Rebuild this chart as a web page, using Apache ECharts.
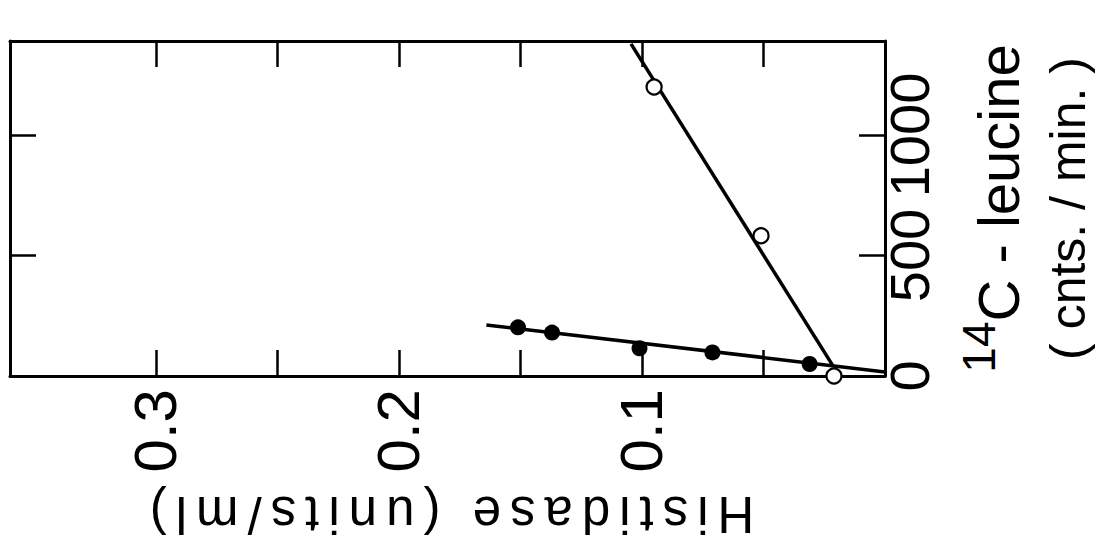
<!DOCTYPE html>
<html>
<head>
<meta charset="utf-8">
<script src="https://cdn.jsdelivr.net/npm/echarts@6/dist/echarts.min.js"></script>
<style>
  html, body { margin: 0; padding: 0; background: #fff; }
  #chart { width: 1108px; height: 548px; }
</style>
</head>
<body>
<div id="chart"></div>
<script>
// Histidase activity against 14C-leucine incorporation (figure drawn turned on its side)

// tick labels and tick marks
const histidaseTicks = [0.1, 0.2, 0.3];
const histidaseMarks = [0.05, 0.1, 0.15, 0.2, 0.25, 0.3];
const leucineTicks = [0, 500, 1000];
const leucineMarks = [500, 1000];

// filled circles
const solidHistidase = [0.151, 0.137, 0.101, 0.071, 0.031];
const solidLeucine = [202, 180, 115, 98, 50];

// open circles
const openHistidase = [0.095, 0.051, 0.021];
const openLeucine = [1199, 582, 0];

// fitted lines (end points)
const solidFitHistidase = [0.164, 0.0];
const solidFitLeucine = [212, 17];
const openFitHistidase = [0.1045, 0.0214];
const openFitLeucine = [1378, 42];

const histidaseTitle = 'Histidase (units/ml)';
const leucineTitle = '{sup|14}{a|C - leucine}\n{b|( cnts. / min. )}';

const pairs = (xs, ys) => xs.map((x, i) => [x, ys[i]]);

const ink = '#000';
const font = 'Liberation Sans';
const axisLine = { show: true, onZero: false, lineStyle: { color: ink, width: 3 } };
const tick = marks => ({
  show: true, inside: true, length: 26, customValues: marks,
  lineStyle: { color: ink, width: 2.5 }
});

const chart = echarts.init(document.getElementById('chart'), null, { renderer: 'svg' });

chart.setOption({
  animation: false,
  backgroundColor: '#fff',
  grid: { left: 10, top: 41, width: 875, height: 335, outerBoundsMode: 'none', containLabel: false },
  xAxis: [
    {
      type: 'value', position: 'bottom', inverse: true,
      min: 0, max: 0.36,
      axisLine, axisTick: tick(histidaseMarks), splitLine: { show: false },
      axisLabel: {
        customValues: histidaseTicks,
        rotate: 90, margin: 13, fontSize: 60, color: ink, fontFamily: font,
        formatter: v => v.toFixed(1)
      },
      name: histidaseTitle, nameLocation: 'middle', nameRotate: 180, nameGap: 113,
      nameMoveOverlap: false,
      nameTextStyle: { fontSize: 51, fontFamily: font, color: ink }
    },
    {
      type: 'value', position: 'top', inverse: true,
      min: 0, max: 0.36,
      axisLine, axisTick: tick(histidaseMarks), splitLine: { show: false },
      axisLabel: { show: false }
    }
  ],
  yAxis: [
    {
      type: 'value', position: 'right',
      min: 0, max: 1390,
      axisLine, axisTick: tick(leucineMarks), splitLine: { show: false },
      axisLabel: {
        customValues: leucineTicks,
        rotate: 90, margin: -4, fontSize: 56, color: ink, fontFamily: font,
        formatter: v => String(v)
      },
      name: leucineTitle, nameLocation: 'middle', nameRotate: 90, nameGap: 71,
      nameMoveOverlap: false,
      nameTextStyle: {
        color: ink, fontFamily: font,
        rich: {
          // superscript mass number sits above the cap line of "C"
          sup: { fontSize: 46, fontFamily: font, color: ink, verticalAlign: 'top' },
          a: { fontSize: 58, fontFamily: font, color: ink, lineHeight: 84, verticalAlign: 'middle' },
          b: { fontSize: 50, fontFamily: font, color: ink, lineHeight: 56 }
        }
      }
    },
    {
      type: 'value', position: 'left',
      min: 0, max: 1390,
      axisLine, axisTick: tick(leucineMarks), splitLine: { show: false },
      axisLabel: { show: false }
    }
  ],
  series: [
    {
      type: 'line', data: pairs(solidFitHistidase, solidFitLeucine),
      showSymbol: false, symbol: 'none', clip: false, z: 3,
      lineStyle: { color: ink, width: 3.5 }
    },
    {
      type: 'line', data: pairs(openFitHistidase, openFitLeucine),
      showSymbol: false, symbol: 'none', clip: false, z: 3,
      lineStyle: { color: ink, width: 3.5 }
    },
    {
      type: 'scatter', data: pairs(solidHistidase, solidLeucine),
      symbol: 'circle', symbolSize: 16, clip: false, z: 5,
      itemStyle: { color: ink, opacity: 1 }
    },
    {
      type: 'scatter', data: pairs(openHistidase, openLeucine),
      symbol: 'circle', symbolSize: 15, clip: false, z: 6,
      itemStyle: { color: '#fff', borderColor: ink, borderWidth: 2.2, opacity: 1 }
    }
  ]
});

// the histidase caption is set in widely spaced lettering
function spaceCaption() {
  document.querySelectorAll('#chart svg text').forEach(t => {
    if (t.textContent === histidaseTitle) t.setAttribute('letter-spacing', '9px');
  });
}
spaceCaption();
chart.on('finished', spaceCaption);
</script>
</body>
</html>
